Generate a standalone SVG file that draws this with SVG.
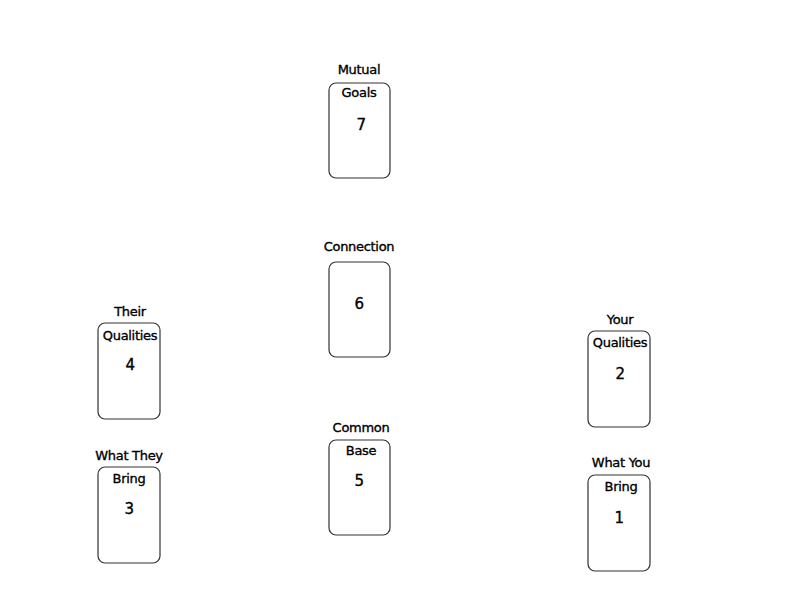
<svg xmlns="http://www.w3.org/2000/svg" width="800" height="600" viewBox="0 0 800 600">
<style>
.card{fill:#fff;stroke:#333;stroke-width:1.2}
text{font-family:"Comic Sans MS","DejaVu Sans","Liberation Sans",sans-serif;font-size:13px;fill:#000;stroke:#000;stroke-width:0.35;text-anchor:middle;letter-spacing:-0.3px}
.num{font-size:15px}
</style>
<rect width="800" height="600" fill="#fff"/>
<g id="connectors"/>
<g id="card7">
<rect class="card" x="329" y="83" width="61" height="95" rx="7"/>
<text x="359" y="74">Mutual</text>
<text x="359" y="97">Goals</text>
<text class="num" x="361" y="130">7</text>
</g>
<g id="card6">
<rect class="card" x="329" y="262" width="61" height="95" rx="7"/>
<text x="359" y="251">Connection</text>
<text class="num" x="359" y="309">6</text>
</g>
<g id="card5">
<rect class="card" x="329" y="440" width="61" height="95" rx="7"/>
<text x="361" y="432">Common</text>
<text x="361" y="455">Base</text>
<text class="num" x="359" y="486">5</text>
</g>
<g id="card4">
<rect class="card" x="98" y="323" width="62" height="96" rx="7"/>
<text x="130" y="316">Their</text>
<text x="130" y="340">Qualities</text>
<text class="num" x="130" y="370">4</text>
</g>
<g id="card3">
<rect class="card" x="98" y="467" width="62" height="96" rx="7"/>
<text x="129" y="460">What They</text>
<text x="129" y="483">Bring</text>
<text class="num" x="129" y="514">3</text>
</g>
<g id="card2">
<rect class="card" x="588" y="331" width="62" height="96" rx="7"/>
<text x="620" y="324">Your</text>
<text x="620" y="347">Qualities</text>
<text class="num" x="620" y="379">2</text>
</g>
<g id="card1">
<rect class="card" x="588" y="475" width="62" height="96" rx="7"/>
<text x="621" y="467">What You</text>
<text x="621" y="491">Bring</text>
<text class="num" x="619" y="523">1</text>
</g>
</svg>
